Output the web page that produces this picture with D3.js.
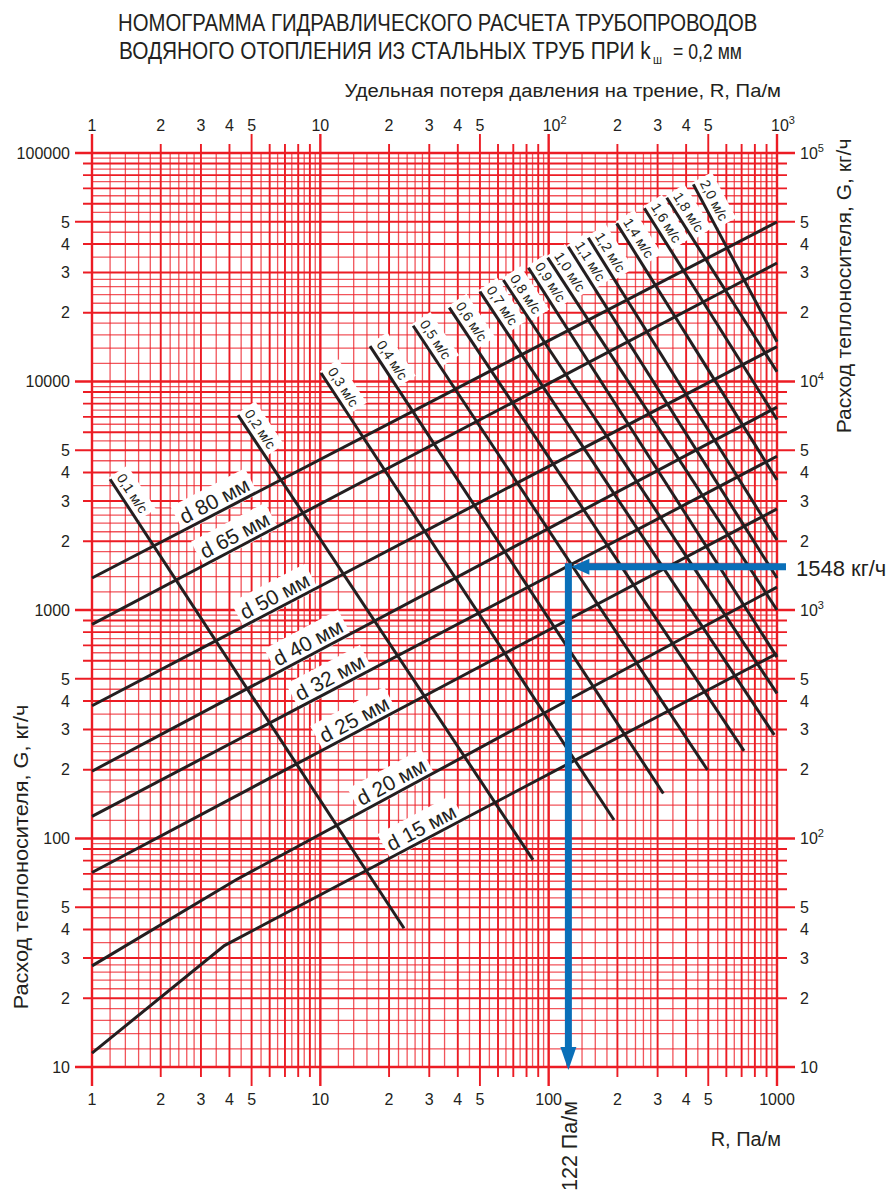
<!DOCTYPE html>
<html><head><meta charset="utf-8">
<script src="https://cdn.jsdelivr.net/npm/d3@7"></script>
<style>
body{margin:0;background:#fff}
svg{display:block;font-family:"Liberation Sans",Arial,Helvetica,sans-serif}
</style></head><body>
<svg id="chart" width="891" height="1193"></svg>
<script>
// ---------------- DATA ----------------
const titleLine1 = "НОМОГРАММА ГИДРАВЛИЧЕСКОГО РАСЧЕТА ТРУБОПРОВОДОВ";
const titleLine2 = "ВОДЯНОГО ОТОПЛЕНИЯ ИЗ СТАЛЬНЫХ ТРУБ ПРИ k";
const titleSub = "ш";
const titleTail = "= 0,2 мм";
const xTitleTop = "Удельная потеря давления на трение, R, Па/м";
const xTitleBottom = "R, Па/м";
const yTitle = "Расход теплоносителя, G, кг/ч";

const xTickValues = [1,2,3,4,5,10,20,30,40,50,100,200,300,400,500,1000];
const xTopLabels = ["1","2","3","4","5","10","2","3","4","5",["10","2"],"2","3","4","5",["10","3"]];
const xBottomLabels = ["1","2","3","4","5","10","2","3","4","5","100","2","3","4","5","1000"];
const yTickValues = [10,20,30,40,50,100,200,300,400,500,1000,2000,3000,4000,5000,10000,20000,30000,40000,50000,100000];
const yLeftLabels = ["10","2","3","4","5","100","2","3","4","5","1000","2","3","4","5","10000","2","3","4","5","100000"];
const yRightLabels = ["10","2","3","4","5",["10","2"],"2","3","4","5",["10","3"],"2","3","4","5",["10","4"],"2","3","4","5",["10","5"]];
const gridMajorSteps = [1,2,3,4,5,6,7,8,9];
const gridMinorSteps = [1.2,1.4,1.6,1.8,2.2,2.4,2.6,2.8,3.5,4.5,5.5,6.5,7.5,8.5,9.5];

// pipe lines: [R (Па/м), G (кг/ч)]
const pipeLabels = ["d 80 мм","d 65 мм","d 50 мм","d 40 мм","d 32 мм","d 25 мм","d 20 мм","d 15 мм"];
const pipe80 = [[1,1380],[1000,49900]];
const pipe65 = [[1,865],[1000,33000]];
const pipe50 = [[1,381],[1000,14200]];
const pipe40 = [[1,197],[1000,7730]];
const pipe32 = [[1,125],[1000,4710]];
const pipe25 = [[1,71],[1000,2770]];
const pipe20 = [[1,27.7],[4.26,65.8],[1000,1260]];
const pipe15 = [[1,11.5],[3.8,34],[1000,645]];
const pipeLabelR = [3.64,4.47,6.69,9.36,11.65,14.9,21.7,29.3];

// velocity lines: start / end points [R, G]
const velocityLabels = ["0,1 м/с","0,2 м/с","0,3 м/с","0,4 м/с","0,5 м/с","0,6 м/с","0,7 м/с","0,8 м/с","0,9 м/с","1,0 м/с","1,1 м/с","1,2 м/с","1,4 м/с","1,6 м/с","1,8 м/с","2,0 м/с"];
const velocityStart = [[1.2,3733],[4.36,7129],[10.07,10890],[16.5,14290],[25.5,17540],[36.7,21040],[50.0,24720],[63.3,27800],[81.5,31480],[99,34830],[121.9,38900],[149.1,42560],[198.6,49200],[262.4,57300],[328.9,63700],[430,72900]];
const velocityEnd = [[23.25,40.5],[85.4,80.6],[193.3,120.5],[317.8,157.4],[496.3,199.5],[717,242],[973,283.9],[1000,431.6],[1000,622],[1000,1000],[1000,1380],[1000,2023],[1000,3706],[1000,6823],[1000,11040],[1000,14930]];

// worked example
const exampleR = 122;
const exampleG = 1548;
const exampleRLabel = "122 Па/м";
const exampleGLabel = "1548 кг/ч";

// ---------------- DRAWING ----------------
const svg = d3.select("#chart");
const x = d3.scaleLog().domain([1,1000]).range([92,777]);
const y = d3.scaleLog().domain([10,100000]).range([1067,153]);
const RED = "#ec1c24", BLACK = "#231f20", BLUE = "#0a6fb8";
const X0 = x(1), X1 = x(1000), Y0 = y(10), Y1 = y(100000);

function mant(v){ return Math.round(v / Math.pow(10, Math.floor(Math.log10(v) + 1e-9))); }

const xDec = [1,10,100], yDec = [10,100,1000,10000];
const xMinor = xDec.flatMap(d => gridMinorSteps.map(m => d*m));
const yMinor = yDec.flatMap(d => gridMinorSteps.map(m => d*m));
const xMajor = xDec.flatMap(d => gridMajorSteps.map(m => d*m)).concat([1000]);
const yMajor = yDec.flatMap(d => gridMajorSteps.map(m => d*m)).concat([100000]);

const grid = svg.append("g");
grid.selectAll(".vmin").data(xMinor).join("line")
  .attr("x1", d => x(d)).attr("x2", d => x(d)).attr("y1", Y1).attr("y2", Y0)
  .attr("stroke", RED).attr("stroke-opacity", 0.75).attr("stroke-width", 1.3);
grid.selectAll(".hmin").data(yMinor).join("line")
  .attr("y1", d => y(d)).attr("y2", d => y(d)).attr("x1", X0).attr("x2", X1)
  .attr("stroke", RED).attr("stroke-opacity", 0.75).attr("stroke-width", 1.3);
grid.selectAll(".vmaj").data(xMajor).join("line")
  .attr("x1", d => x(d)).attr("x2", d => x(d))
  .attr("y1", d => { const m = mant(d); return Y1 - ((m===1||m===5) ? 19 : 9); })
  .attr("y2", d => { const m = mant(d); return Y0 + ((m===1||m===5) ? 19 : 10); })
  .attr("stroke", RED).attr("stroke-width", d => mant(d)===1 ? 2.4 : 1.9);
grid.selectAll(".hmaj").data(yMajor).join("line")
  .attr("y1", d => y(d)).attr("y2", d => y(d))
  .attr("x1", d => { const m = mant(d); return X0 - ((m===1||m===5) ? 17 : 9); })
  .attr("x2", d => { const m = mant(d); return X1 + ((m===1||m===5) ? 18 : 10); })
  .attr("stroke", RED).attr("stroke-width", d => mant(d)===1 ? 2.4 : 1.9);

// tick labels
const tl = svg.append("g").attr("fill", "#231f20").attr("font-size", 16);
function supText(sel, lab){
  if (Array.isArray(lab)) {
    sel.text(lab[0]);
    sel.append("tspan").attr("dy", -7).attr("font-size", 11).text(lab[1]);
  } else sel.text(lab);
}
xTickValues.forEach((v,i) => {
  const lab = xTopLabels[i];
  const t = tl.append("text").attr("x", x(v) + (Array.isArray(lab) ? 6 : 0)).attr("y", 131).attr("text-anchor","middle");
  supText(t, lab);
  tl.append("text").attr("x", x(v)).attr("y", 1105).attr("text-anchor","middle").text(xBottomLabels[i]);
});
yTickValues.forEach((v,i) => {
  tl.append("text").attr("x", 70).attr("y", y(v)).attr("dy","0.36em").attr("text-anchor","end").text(yLeftLabels[i]);
  const t = tl.append("text").attr("x", 800).attr("y", y(v)).attr("dy","0.36em").attr("text-anchor","start");
  supText(t, yRightLabels[i]);
});

// titles (condensed by horizontal scaling to the reference widths)
const tt = svg.append("g").attr("fill", "#231f20");
function condensed(px, py, rot, size, anchor, width, txt){
  const t = tt.append("text").attr("font-size", size).attr("text-anchor", anchor).text(txt);
  const w = t.node().getComputedTextLength();
  t.attr("transform", `translate(${px},${py}) rotate(${rot}) scale(${width / w},1)`);
  return t;
}
condensed(118, 31, 0, 23, "start", 640, titleLine1);
condensed(119, 59, 0, 23, "start", 532, titleLine2);
condensed(653, 64, 0, 13, "start", 9, titleSub);
condensed(673, 59, 0, 23, "start", 69, titleTail);
condensed(781, 97, 0, 19, "end", 437, xTitleTop);
tt.append("text").attr("x", 781).attr("y", 1146).attr("font-size", 20).attr("text-anchor","end").text(xTitleBottom);
condensed(28, 857, -90, 21, "middle", 305, yTitle);
condensed(851, 286, -90, 21, "middle", 295, yTitle);

// series
const pipes = [pipe80,pipe65,pipe50,pipe40,pipe32,pipe25,pipe20,pipe15];
const line = d3.line().x(d => x(d[0])).y(d => y(d[1]));
const boxLayer = svg.append("g");
const lineLayer = svg.append("g");
const textLayer = svg.append("g");

function pointOn(poly, r){
  for (let i=0;i<poly.length-1;i++){
    const a = poly[i], b = poly[i+1];
    if (r >= a[0] && r <= b[0]) {
      const t = (Math.log(r)-Math.log(a[0]))/(Math.log(b[0])-Math.log(a[0]));
      const g = Math.exp(Math.log(a[1]) + t*(Math.log(b[1])-Math.log(a[1])));
      const ang = Math.atan2(y(b[1])-y(a[1]), x(b[0])-x(a[0]))*180/Math.PI;
      return {px: x(r), py: y(g), ang};
    }
  }
}

function addLabel(px, py, ang, txt, size, anchor, dx, dy, pad){
  const g = textLayer.append("g").attr("transform", `translate(${px},${py}) rotate(${ang})`);
  const t = g.append("text").attr("x", dx).attr("y", dy).attr("font-size", size)
    .attr("text-anchor", anchor).attr("fill", "#231f20").text(txt);
  const bb = t.node().getBBox();
  boxLayer.append("rect").attr("transform", `translate(${px},${py}) rotate(${ang})`)
    .attr("x", bb.x - pad).attr("y", bb.y - pad + 1).attr("width", bb.width + 2*pad).attr("height", bb.height + 2*pad - 2)
    .attr("fill", "#fff");
}

pipes.forEach((p,i) => {
  lineLayer.append("path").attr("d", line(p)).attr("fill","none").attr("stroke", BLACK).attr("stroke-width", 3);
  const q = pointOn(p, pipeLabelR[i]);
  addLabel(q.px, q.py, q.ang, pipeLabels[i], 21, "middle", 0, -5, 4);
});

velocityStart.forEach((s,i) => {
  const e = velocityEnd[i];
  lineLayer.append("path").attr("d", line([s,e])).attr("fill","none").attr("stroke", BLACK).attr("stroke-width", 3);
  const ang = Math.atan2(y(e[1])-y(s[1]), x(e[0])-x(s[0]))*180/Math.PI;
  addLabel(x(s[0]), y(s[1]), ang, velocityLabels[i], 14, "start", 2, -6, 4);
});

// worked example (blue arrows)
const bx = x(exampleR), by = y(exampleG);
const blue = svg.append("g");
blue.append("line").attr("x1", 786).attr("x2", bx + 14).attr("y1", by).attr("y2", by)
  .attr("stroke", BLUE).attr("stroke-width", 7);
blue.append("path").attr("d", `M${bx+3},${by} L${bx+21},${by-8} L${bx+21},${by+8} Z`).attr("fill", BLUE);
blue.append("line").attr("x1", bx).attr("x2", bx).attr("y1", by - 3.5).attr("y2", Y0 - 16)
  .attr("stroke", BLUE).attr("stroke-width", 7);
blue.append("path").attr("d", `M${bx},${Y0+3} L${bx-8},${Y0-20} L${bx+8},${Y0-20} Z`).attr("fill", BLUE);
svg.append("text").attr("x", 796).attr("y", 576).attr("font-size", 22).attr("fill","#231f20").text(exampleGLabel);
svg.append("text").attr("transform", `translate(${bx+9},1101) rotate(-90)`).attr("font-size", 21.5)
  .attr("text-anchor","end").attr("fill","#231f20").text(exampleRLabel);
</script>
</body></html>
